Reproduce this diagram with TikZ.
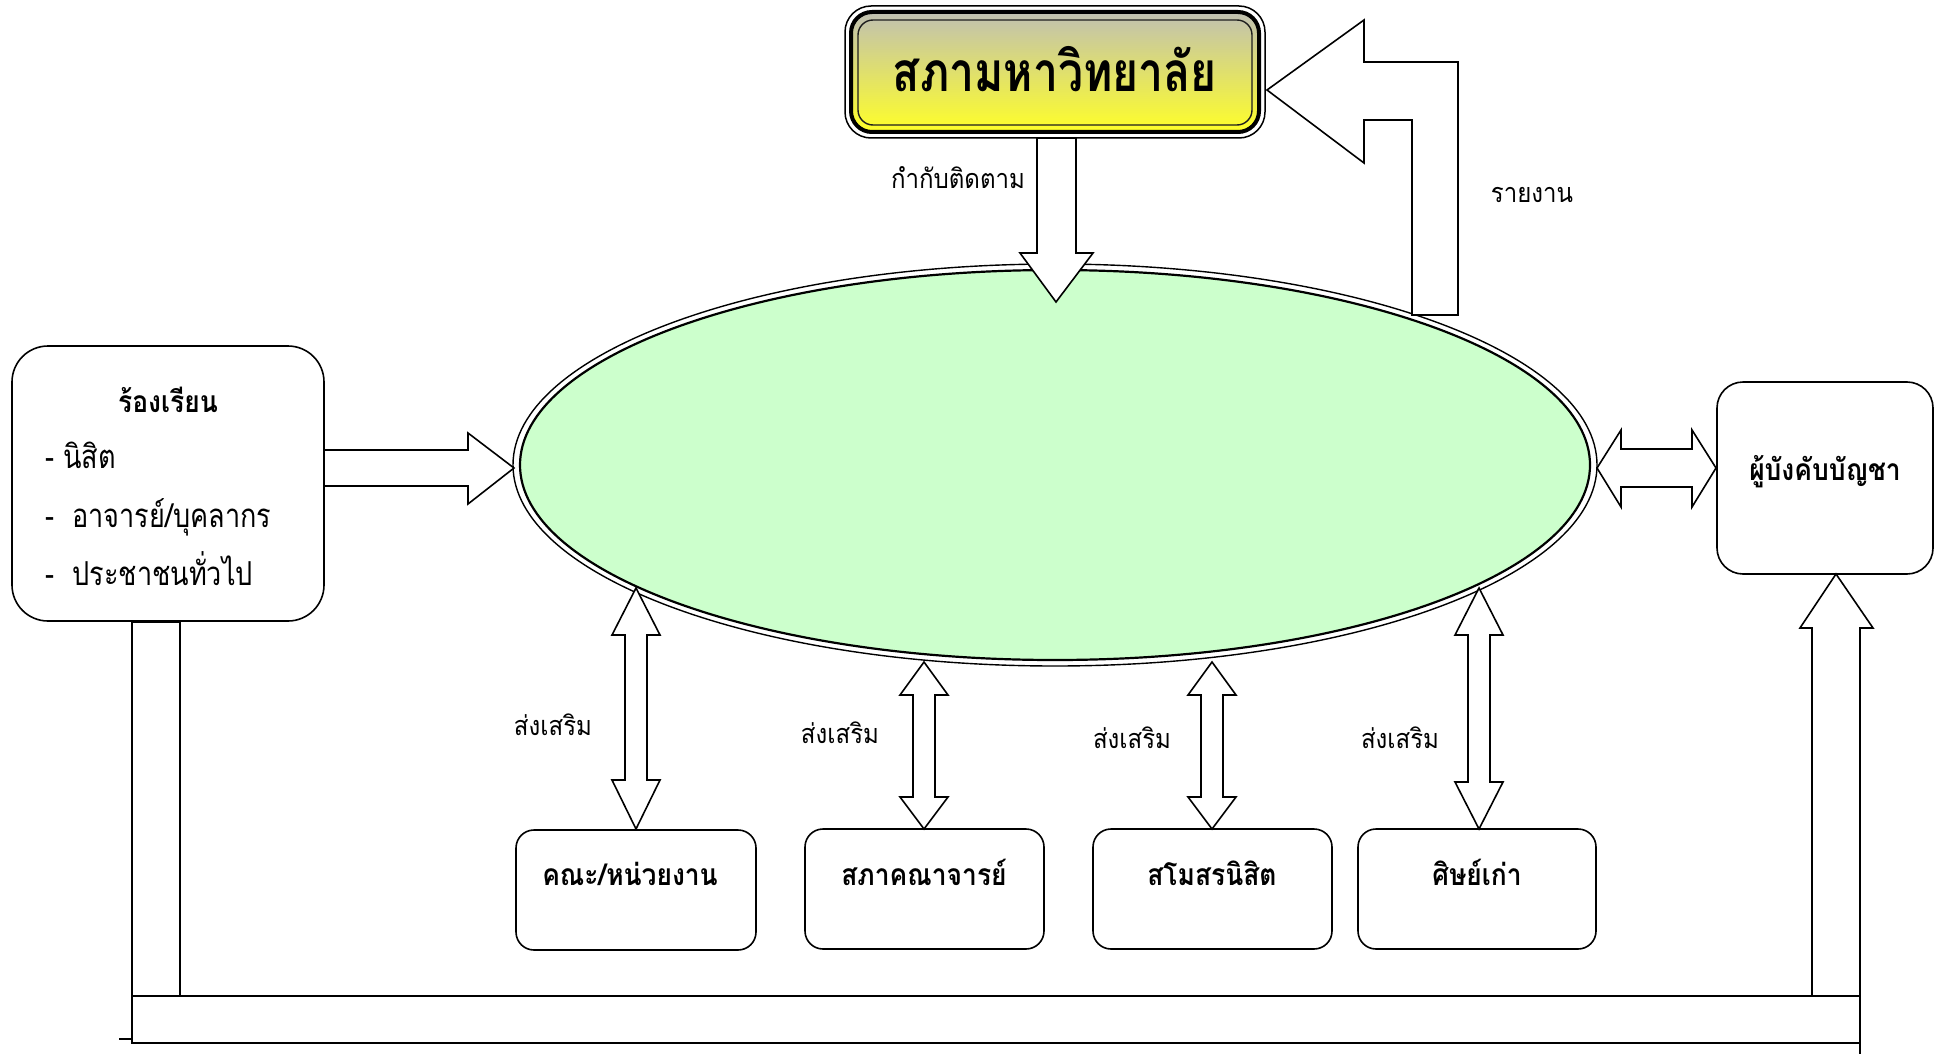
\documentclass[tikz,border=0pt]{standalone}
\usepackage{fontspec}
\newfontfamily\thaititle[Script=Thai,FakeStretch=0.81]{Loma}
\newfontfamily\thailbl[Script=Thai,FakeStretch=0.89]{Loma}
\newfontfamily\thaiitem[Script=Thai,FakeStretch=0.82]{Loma}
\newfontfamily\thaibox[Script=Thai,FakeStretch=0.88]{Loma}
\begin{document}
\begin{tikzpicture}[x=1pt,y=-1pt]
\useasboundingbox (0,0) rectangle (1948,1054);
\tikzset{
  blk/.style={draw=black, fill=white, line width=1.6pt, line join=miter},
  rbox/.style={draw=black, fill=white, line width=1.6pt, rounded corners=18pt, inner sep=0pt},
  lbl/.style={font=\thailbl\fontsize{27}{30}\selectfont, inner sep=0pt, anchor=base},
  boxtxt/.style={font=\thaibox\bfseries\fontsize{30}{34}\selectfont, inner sep=0pt, anchor=base},
  itemtxt/.style={font=\thaiitem\fontsize{33}{36}\selectfont, inner sep=0pt, anchor=base west},
}
\newcommand\vdarr[5]{%
  \draw[blk] (#1,#2) -- ({#1+24},#3) -- ({#1+11},#3) -- ({#1+11},#4) -- ({#1+24},#4)
    -- (#1,#5) -- ({#1-24},#4) -- ({#1-11},#4) -- ({#1-11},#3) -- ({#1-24},#3) -- cycle;}

% ---------- oval ----------
\draw[fill=white, line width=1.4pt] (1055,465) ellipse [x radius=542, y radius=201];
\draw[fill={rgb,255:red,204;green,255;blue,204}, line width=2.2pt] (1055,465) ellipse [x radius=535, y radius=195];
\coordinate (oval) at (1055,465);

% ---------- title box ----------
\draw[line width=1.5pt, fill=white, rounded corners=26pt] (845,6) rectangle (1265,138);
\shade[top color={rgb,255:red,192;green,192;blue,178}, bottom color={rgb,255:red,255;green,255;blue,40}, rounded corners=21pt] (851,12) rectangle (1259,132);
\draw[line width=4pt, rounded corners=21pt] (851,12) rectangle (1259,132);
\draw[line width=1.4pt, draw={rgb,255:red,30;green,30;blue,30}, rounded corners=15pt] (858,20) rectangle (1252,125);
\node[font=\thaititle\bfseries\fontsize{55}{60}\selectfont, inner sep=0pt, anchor=base] (council) at (1055,92) {สภามหาวิทยาลัย};

% ---------- down arrow (monitor) ----------
\draw[blk] (1037,138) -- (1037,253) -- (1020,253) -- (1056,302) -- (1093,253) -- (1076,253) -- (1076,138) -- cycle;
\node[lbl] (monitor) at (958,188) {กำกับติดตาม};

% ---------- report arrow ----------
\draw[blk] (1267,90) -- (1364,20) -- (1364,62) -- (1458,62) -- (1458,315) -- (1412,315) -- (1412,120) -- (1364,120) -- (1364,163) -- cycle;
\node[lbl] (report) at (1532,202) {รายงาน};

% ---------- complaint box ----------
\node[rbox, rounded corners=36pt, minimum width=312pt, minimum height=275pt] (complaint) at (168,483.5) {};
\node[boxtxt] (ct) at (168,412) {ร้องเรียน};
\node[itemtxt] (c1) at (45,468) {- นิสิต};
\node[itemtxt] (c2) at (45,527) {-\ \ อาจารย์/บุคลากร};
\node[itemtxt] (c3) at (45,585) {-\ \ ประชาชนทั่วไป};
\draw[blk] (324,450) -- (468,450) -- (468,433) -- (514,468) -- (468,504) -- (468,486) -- (324,486) -- cycle;

% ---------- commander box ----------
\node[rbox, rounded corners=26pt, minimum width=216pt, minimum height=192pt] (boss) at (1825,478) {};
\node[boxtxt] (bt) at (1825,480) {ผู้บังคับบัญชา};
\draw[blk] (1597,468) -- (1621,430) -- (1621,449) -- (1692,449) -- (1692,430) -- (1716,468) -- (1692,507) -- (1692,487) -- (1621,487) -- (1621,507) -- cycle;

% ---------- bottom boxes ----------
\node[rbox, minimum width=240pt, minimum height=120pt] (b1) at (636,890) {};
\node[rbox, minimum width=239pt, minimum height=120pt] (b2) at (924.5,889) {};
\node[rbox, minimum width=239pt, minimum height=120pt] (b3) at (1212.5,889) {};
\node[rbox, minimum width=238pt, minimum height=120pt] (b4) at (1477,889) {};
\node[boxtxt] at (630,885) {คณะ/หน่วยงาน};
\node[boxtxt] at (924,885) {สภาคณาจารย์};
\node[boxtxt] at (1212,885) {สโมสรนิสิต};
\node[boxtxt] at (1477,885) {ศิษย์เก่า};

\vdarr{636}{588}{635}{780}{829}
\vdarr{924}{662}{695}{797}{829}
\vdarr{1212}{662}{695}{797}{829}
\vdarr{1479}{588}{635}{782}{829}

\node[lbl] at (553,735) {ส่งเสริม};
\node[lbl] at (840,743) {ส่งเสริม};
\node[lbl] at (1132,748) {ส่งเสริม};
\node[lbl] at (1400,748) {ส่งเสริม};

% ---------- bottom channel ----------
\draw[blk] (132,622) rectangle (180,996);
\draw[blk] (1812,996) -- (1812,628) -- (1800,628) -- (1836,574) -- (1873,628) -- (1860,628) -- (1860,996) -- cycle;
\draw[blk] (132,996) rectangle (1860,1043);
\draw[line width=1.6pt] (1860,1043) -- (1860,1054);
\draw[line width=2pt] (119,1039) -- (132,1039);
\end{tikzpicture}
\end{document}
